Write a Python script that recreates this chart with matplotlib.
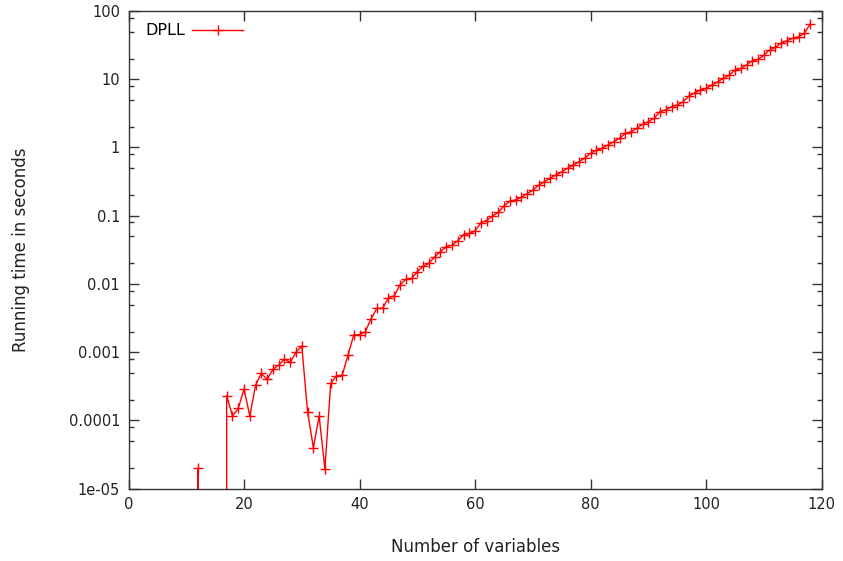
import numpy as np
import matplotlib
matplotlib.use('Agg')
import matplotlib.pyplot as plt
from matplotlib.ticker import FixedLocator, LogLocator, NullFormatter

# Datos: numero de variables y tiempo de ejecucion (0 = por debajo del eje)
variables = list(range(11, 119))
tiempos = [0, 2.0e-5, 0, 0, 0, 0,
           2.3e-4, 1.16e-4, 1.5e-4, 2.9e-4, 1.16e-4, 3.3e-4, 4.9e-4, 4.0e-4, 5.6e-4, 6.5e-4,
           7.9e-4, 7.1e-4, 1.0e-3, 1.23e-3, 1.34e-4, 4.0e-5, 1.16e-4, 1.95e-5, 3.5e-4, 4.5e-4,
           4.6e-4, 9.1e-4, 1.8e-3, 1.8e-3, 2.0e-3, 3.1e-3, 4.4e-3, 4.4e-3, 6.3e-3, 6.7e-3,
           9.7e-3, 0.0117, 0.0121, 0.0151, 0.0183, 0.020, 0.025, 0.0297, 0.0352, 0.037,
           0.043, 0.053, 0.055, 0.060, 0.079, 0.085, 0.099, 0.112, 0.139, 0.164,
           0.17, 0.186, 0.21, 0.238, 0.28, 0.316, 0.353, 0.395, 0.44, 0.495,
           0.55, 0.62, 0.70, 0.82, 0.92, 0.97, 1.09, 1.22, 1.36, 1.61,
           1.7, 1.91, 2.2, 2.39, 2.68, 3.35, 3.55, 3.97, 4.19, 4.69,
           5.67, 6.33, 6.95, 7.36, 8.24, 9.2, 10.3, 11.5, 13.6, 14.4,
           16.2, 18.7, 19.5, 22.6, 26.8, 29.5, 33.7, 36.8, 39.9, 42.0,
           47.0, 64.5]

yticks = [1e-5, 1e-4, 1e-3, 1e-2, 1e-1, 1, 10, 100]
ytick_labels = ['1e-05', '0.0001', '0.001', '0.01', '0.1', '1', '10', '100']
xticks = [0, 20, 40, 60, 80, 100, 120]

plt.rcParams['font.family'] = 'DejaVu Sans'
plt.rcParams['font.size'] = 10.5

fig = plt.figure(figsize=(8.43, 5.61), dpi=100)
ax = fig.add_axes([128.5 / 843, 1 - 488.7 / 561, 693.2 / 843, 477.7 / 561])

ax.plot(variables, tiempos, color='#ff0000', linewidth=1, marker='+',
        markersize=7, markeredgewidth=1, label='DPLL')

ax.set_yscale('log')
ax.set_xlim(0, 120)
ax.set_ylim(1e-5, 100)
ax.set_xticks(xticks)
ax.yaxis.set_major_locator(FixedLocator(yticks))
ax.set_yticklabels(ytick_labels)
ax.yaxis.set_minor_locator(LogLocator(base=10, subs=[2, 5, 8]))
ax.yaxis.set_minor_formatter(NullFormatter())

ax.tick_params(which='both', direction='in', top=True, right=True, color='#333333', labelcolor='#222222')
ax.tick_params(which='major', length=7, width=1, pad=6)
ax.tick_params(which='minor', length=3.8, width=1)
for s in ax.spines.values():
    s.set_color('#333333')
    s.set_linewidth(1)

ax.set_xlabel('Number of variables', fontsize=12, labelpad=19, color='#222222')
ax.set_ylabel('Running time in seconds', fontsize=12, labelpad=28, color='#222222')

ax.legend(loc='upper left', bbox_to_anchor=(0.015, 0.9875), frameon=False, markerfirst=False,
          handlelength=3.2, borderaxespad=0, handletextpad=0.45, fontsize=11.5)

fig.savefig('out.png', dpi=100)
